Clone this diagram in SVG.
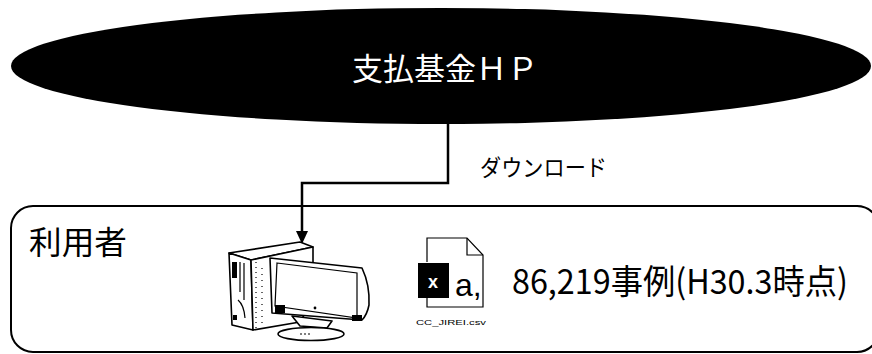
<svg xmlns="http://www.w3.org/2000/svg" width="872" height="354" viewBox="0 0 872 354">
  <style>
    .jp { font-family: "Noto Sans CJK JP", "Noto Sans", sans-serif; }
    .line { fill: none; stroke: #000; stroke-width: 2.5; }
    .art { fill: #fff; stroke: #000; stroke-width: 1.6; stroke-linejoin: round; }
    .thin { fill: none; stroke: #000; stroke-width: 1.2; }
  </style>

  <!-- Payment fund website -->
  <g id="hp">
    <ellipse cx="441" cy="66" rx="430" ry="58" fill="#000"/>
    <text class="jp" x="445" y="80" font-size="31" fill="#fff" text-anchor="middle" textLength="186" lengthAdjust="spacingAndGlyphs">支払基金ＨＰ</text>
  </g>

  <!-- User area -->
  <g id="user">
    <rect x="11" y="206" width="868" height="146" rx="22" ry="22" fill="none" stroke="#000" stroke-width="2"/>
    <text class="jp" x="29" y="254" font-size="32" fill="#000" textLength="98" lengthAdjust="spacingAndGlyphs">利用者</text>
  </g>

  <!-- Download connector -->
  <g id="connectors">
    <path class="line" d="M448,124 V183 H302 V232"/>
    <path d="M296,231 L308,231 L302,244 Z" fill="#000"/>
    <text class="jp" x="480" y="176" font-size="23" fill="#000" textLength="127" lengthAdjust="spacingAndGlyphs">ダウンロード</text>
  </g>

  <!-- Desktop computer -->
  <g id="computer">
    <!-- tower top -->
    <path class="art" d="M229,253 L300,242 L313,247 L251,260 Z"/>
    <!-- tower front with drive bays -->
    <path class="art" d="M229,253 L251,260 L253,330 L232,325 Z"/>
    <rect x="232" y="262" width="5" height="16" fill="#000"/>
    <path class="thin" d="M240,262 V292 M244,263 V300 M238,300 Q244,305 245,318"/>
    <rect x="233" y="315" width="4" height="5" fill="#000"/>
    <!-- tower side panel -->
    <path class="art" d="M251,260 L313,247 L313,300 L300,322 L253,330 Z"/>
    <path class="thin" d="M256,262 V328" stroke-dasharray="1 4"/>
    <path class="thin" d="M262,268 V326" stroke-dasharray="1 5"/>
    <!-- monitor frame -->
    <path class="art" d="M270,258 L362,268 Q370,285 369,305 Q367,315 362,320 L272,313 Z"/>
    <path class="thin" d="M277,263 L357,273 L357,318 L275,306 Z"/>
    <rect x="275" y="305" width="10" height="8" fill="#000"/>
    <rect x="352" y="315" width="10" height="6" fill="#000"/>
    <circle cx="315" cy="308" r="1.4" fill="#000"/>
    <!-- stand -->
    <path class="art" d="M292,316 L300,326 L327,328 L332,321 Z"/>
    <ellipse class="art" cx="311" cy="334" rx="33" ry="6.5"/>
    <path class="thin" d="M300,334 H312" stroke-dasharray="2 2"/>
  </g>

  <!-- CSV file icon -->
  <g id="csv">
    <path class="thin" d="M427,262 V238 H467 L483,255 V307 H427 V298"/>
    <path class="thin" d="M467,238 V255 H483"/>
    <rect x="418" y="263" width="31" height="35" fill="#000"/>
    <text x="433" y="288" font-family="'Liberation Sans', sans-serif" font-weight="bold" font-size="18" fill="#fff" text-anchor="middle">x</text>
    <text x="455" y="296" font-family="'Liberation Sans', sans-serif" font-size="32" fill="#000">a,</text>
    <text x="451" y="325" font-family="'Liberation Sans', sans-serif" font-size="8" fill="#000" text-anchor="middle" textLength="70" lengthAdjust="spacingAndGlyphs">CC_JIREI.csv</text>
  </g>

  <!-- Record count -->
  <g id="count">
    <text class="jp" x="512" y="294" font-size="34" fill="#000" textLength="336" lengthAdjust="spacingAndGlyphs">86,219事例(H30.3時点)</text>
  </g>
</svg>
